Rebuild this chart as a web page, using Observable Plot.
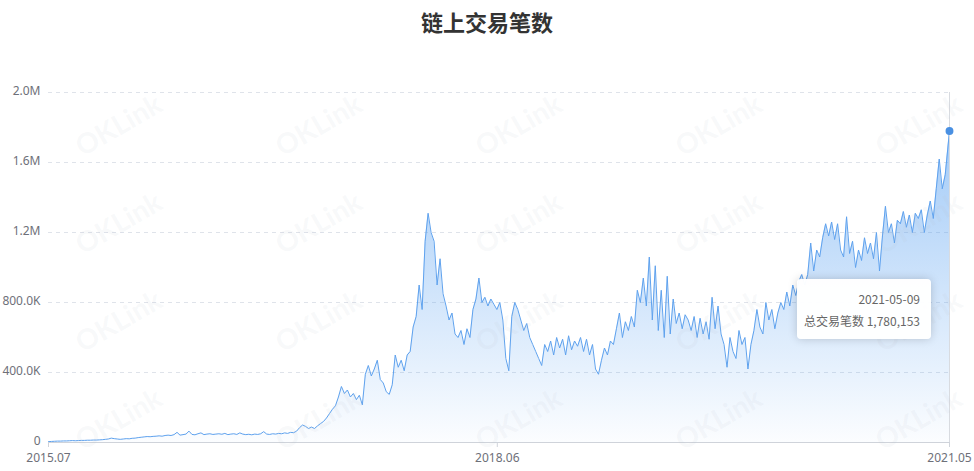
<!DOCTYPE html>
<html>
<head>
<meta charset="utf-8">
<script src="https://cdn.jsdelivr.net/npm/d3@7"></script>
<script src="https://cdn.jsdelivr.net/npm/@observablehq/plot@0.6"></script>
<style>
  html, body { margin: 0; padding: 0; background: #fff; }
  #wrap { position: relative; width: 974px; height: 471px; overflow: hidden; font-family: "Noto Sans", "Noto Sans CJK SC", sans-serif; }
  #title { height: 40px; line-height: 42px; text-align: center; font-size: 22px; font-weight: bold; color: #333; font-family: "Noto Sans CJK SC", sans-serif; }
  #chart svg { display: block; }
  #wm { position: absolute; left: 0; top: 0; width: 974px; height: 471px; pointer-events: none; }
  #wm span { position: absolute; font-family: Lato, sans-serif; font-weight: bold; font-size: 28px; color: rgba(185,192,204,0.11); transform: translate(-50%,-50%) rotate(-30deg); white-space: nowrap; }
  #tip { position: absolute; left: 797px; top: 279px; width: 134px; height: 60px; box-sizing: border-box; background: rgba(255,255,255,0.97); border-radius: 4px; box-shadow: 0 0 10px rgba(0,0,0,0.18); padding: 9px 11px 0 0; text-align: right; font-size: 12px; color: #666; font-family: "Noto Sans CJK SC", sans-serif; line-height: 22px; }
</style>
</head>
<body>
<div id="wrap">
  <div id="title"></div>
  <div id="chart"></div>
  <div id="wm"></div>
  <div id="tip"></div>
</div>
<script>
const chartTitle = "链上交易笔数";
const seriesName = "总交易笔数";
const startDate = "2015-07-30";
const lastDate = "2021-05-09";
// weekly samples (thousands of transactions)
const weeklyK = [
  5,6,7,8,8,9,9,10,11,10,
  11,12,12,13,13,14,14,15,16,18,
  20,25,22,20,18,20,22,21,24,25,
  28,30,32,34,33,35,36,38,36,40,
  42,40,45,58,42,45,48,65,46,44,
  50,55,45,48,50,46,48,50,47,52,
  45,48,50,46,55,48,45,47,44,48,
  46,50,62,48,46,50,48,52,50,55,
  52,58,56,65,85,100,92,80,88,80,
  95,108,120,140,165,190,210,260,320,280,
  300,260,280,245,270,215,390,440,380,420,
  470,360,340,290,275,330,500,430,470,410,
  500,520,660,720,900,760,1150,1310,1200,1150,
  900,1050,850,780,700,740,620,600,640,560,
  650,600,760,820,940,800,830,780,820,790,
  760,800,700,480,410,720,800,760,700,640,
  680,600,560,520,480,440,560,520,580,500,
  600,540,590,500,610,530,580,550,600,520,
  590,500,560,420,390,470,540,500,580,560,
  650,740,600,690,640,720,660,870,800,940,
  780,1060,700,1010,640,870,600,950,620,820,
  680,740,650,730,700,640,720,600,710,620,
  690,590,830,650,780,620,560,430,600,520,
  480,640,560,600,420,560,640,760,660,620,
  800,700,760,650,740,800,760,860,780,900,
  840,920,960,900,960,1140,980,1100,1060,1170,
  1250,1180,1260,1160,1250,1100,1060,1290,1080,1150,
  1000,1100,1040,1170,1080,1140,1050,1200,980,1180,
  1350,1200,1250,1140,1270,1250,1320,1230,1300,1200,
  1310,1280,1330,1200,1300,1380,1280,1450,1620,1450,1530
];
const lastK = 1780.153;
const xTickDates = ["2015-07-30", "2018-06-15", "2021-05-09"];
const xTickLabels = ["2015.07", "2018.06", "2021.05"];
const yTicks = [0, 400000, 800000, 1200000, 1600000, 2000000];
const yTickLabels = ["0", "400.0K", "800.0K", "1.2M", "1.6M", "2.0M"];

const start = new Date(startDate + "T00:00:00Z");
const end = new Date(lastDate + "T00:00:00Z");
const data = weeklyK.map((v, i) => ({date: d3.utcDay.offset(start, 7 * i), value: v * 1000}));
const last = {date: end, value: Math.round(lastK * 1000)};
data.push(last);

const xTicks = xTickDates.map(s => new Date(s + "T00:00:00Z"));
const xLabelMap = new Map(xTicks.map((d, i) => [+d, xTickLabels[i]]));
const yLabelMap = new Map(yTicks.map((d, i) => [d, yTickLabels[i]]));

document.getElementById("title").textContent = chartTitle;

const svg = Plot.plot({
  width: 974,
  height: 431,
  marginTop: 52,
  marginRight: 25,
  marginBottom: 29,
  marginLeft: 48,
  style: {fontFamily: "'Noto Sans','Noto Sans CJK SC',sans-serif", fontSize: "12px", background: "transparent", overflow: "visible"},
  x: {type: "utc", domain: [start, end]},
  y: {domain: [0, 2000000]},
  marks: [
    Plot.gridY(yTicks.slice(1), {stroke: "#dfe3ea", strokeOpacity: 1, strokeDasharray: "4,4"}),
    Plot.areaY(data, {x: "date", y: "value", fill: "url(#areaGrad)"}),
    Plot.lineY(data, {x: "date", y: "value", stroke: "#5fa2ee", strokeWidth: 1}),
    Plot.ruleY([0], {stroke: "#cfd3da"}),
    Plot.ruleX([end], {y1: 0, y2: 2000000, stroke: "#d8dbe0"}),
    Plot.dot([last], {x: "date", y: "value", r: 3.2, fill: "#4a90e2", stroke: "#4a90e2"}),
    Plot.axisY({ticks: yTicks, tickFormat: d => yLabelMap.get(d), tickSize: 0, tickPadding: 8, label: null, fill: "#6e7079", stroke: "none", dy: -1}),
    Plot.axisX({ticks: xTicks, tickFormat: d => xLabelMap.get(+d), tickSize: 5, tickPadding: 6, label: null, fill: "#6e7079", stroke: "#cfd3da"})
  ]
});

const defs = d3.select(svg).insert("defs", ":first-child");
const grad = defs.append("linearGradient").attr("id", "areaGrad").attr("x1", 0).attr("y1", 0).attr("x2", 0).attr("y2", 1);
grad.append("stop").attr("offset", "0%").attr("stop-color", "#4d9af0").attr("stop-opacity", 0.52);
grad.append("stop").attr("offset", "100%").attr("stop-color", "#4d9af0").attr("stop-opacity", 0.02);

document.getElementById("chart").appendChild(svg);

// watermark
const wm = document.getElementById("wm");
[118, 318, 518, 718, 918].forEach(cx => {
  [124, 222, 320, 418].forEach(cy => {
    const s = document.createElement("span");
    s.textContent = "OKLink";
    s.style.left = cx + "px";
    s.style.top = cy + "px";
    wm.appendChild(s);
  });
});

// tooltip
const tip = document.getElementById("tip");
tip.innerHTML = "";
const l1 = document.createElement("div");
l1.textContent = lastDate;
const l2 = document.createElement("div");
l2.textContent = seriesName + " " + d3.format(",")(last.value);
tip.appendChild(l1);
tip.appendChild(l2);
</script>
</body>
</html>
